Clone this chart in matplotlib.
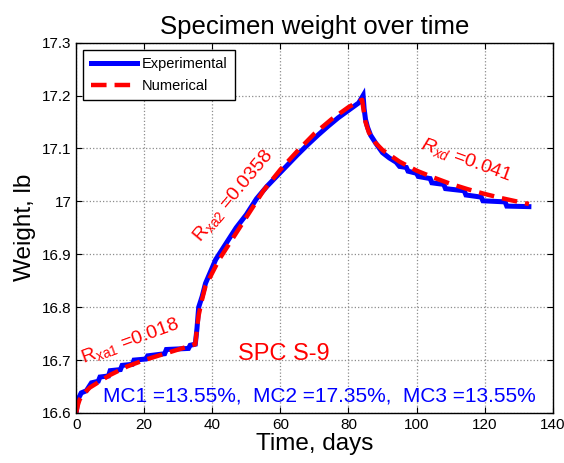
import matplotlib
matplotlib.use('Agg')
import matplotlib.pyplot as plt

plt.rcParams['font.family'] = ['Liberation Sans', 'DejaVu Sans']
plt.rcParams['mathtext.fontset'] = 'custom'
plt.rcParams['mathtext.rm'] = 'Liberation Sans'
plt.rcParams['mathtext.it'] = 'Liberation Sans:italic'
plt.rcParams['mathtext.default'] = 'regular'

# experimental measurements (scale readings, small steps)
exp_days = [0, 0.5, 1.5, 3, 4.5, 6.5, 7, 9.5, 10, 13, 13.5, 16.5, 17, 20.5, 21, 26, 26.5,
            33, 33.5, 35, 35.5, 36, 37, 38, 39, 40, 41, 42, 44, 47, 50, 53, 56, 59, 62, 65,
            68, 71, 74, 77, 80, 83, 84.3, 84.6, 85, 85.6, 86.5, 88, 90, 92, 94, 95, 97,
            97.5, 100, 100.5, 104, 104.5, 108, 108.5, 114, 114.5, 119, 119.5, 126, 126.5,
            133]
exp_weight = [16.600, 16.625, 16.638, 16.642, 16.657, 16.660, 16.668, 16.670, 16.680,
              16.682, 16.690, 16.692, 16.700, 16.702, 16.708, 16.712, 16.720, 16.722,
              16.728, 16.730, 16.760, 16.800, 16.820, 16.845, 16.860, 16.875, 16.890,
              16.900, 16.920, 16.950, 16.975, 17.005, 17.028, 17.048, 17.068, 17.088,
              17.107, 17.125, 17.142, 17.158, 17.172, 17.186, 17.200, 17.175, 17.155,
              17.140, 17.125, 17.110, 17.092, 17.082, 17.074, 17.066, 17.064, 17.057,
              17.053, 17.047, 17.043, 17.035, 17.032, 17.024, 17.020, 17.012, 17.008,
              17.001, 16.999, 16.991, 16.990]

# numerical model
num_days = [0, 0.5, 1, 2, 4, 7, 10, 15, 20, 25, 30, 35, 35.5, 36, 37, 38, 40, 42, 45, 50,
            55, 60, 65, 70, 75, 80, 84, 84.5, 85, 86, 88, 90, 95, 100, 105, 110, 115, 120,
            125, 130, 133]
num_weight = [16.600, 16.615, 16.625, 16.635, 16.648, 16.660, 16.672, 16.688, 16.700, 16.710,
              16.720, 16.730, 16.760, 16.785, 16.815, 16.840, 16.865, 16.890, 16.920, 16.970,
              17.020, 17.060, 17.095, 17.128, 17.155, 17.178, 17.192, 17.170, 17.150, 17.130,
              17.110, 17.097, 17.075, 17.058, 17.045, 17.033, 17.023, 17.014, 17.006, 16.999,
              16.995]

fig = plt.figure(figsize=(5.64, 4.63), dpi=100)
ax = fig.add_axes([0.135, 0.108, 0.845, 0.8])

ax.plot(exp_days, exp_weight, color='#0000ff', lw=3.6, label='Experimental',
        solid_joinstyle='miter')
ax.plot(num_days, num_weight, color='#ff0000', lw=3.2, ls=(0, (3.5, 1.8)),
        label='Numerical')

ax.set_xlim(0, 140)
ax.set_ylim(16.6, 17.3)
ax.set_xticks(range(0, 141, 20))
ax.set_yticks([16.6, 16.7, 16.8, 16.9, 17.0, 17.1, 17.2, 17.3])
ax.set_yticklabels(['16.6', '16.7', '16.8', '16.9', '17', '17.1', '17.2', '17.3'])
ax.tick_params(direction='in', top=True, right=True, labelsize=11, length=4, width=0.8)
ax.grid(True, color='0.55', ls=':', lw=0.9)
for s in ax.spines.values():
    s.set_linewidth(1.0)

ax.set_title('Specimen weight over time', fontsize=18.5, pad=6)
ax.set_xlabel('Time, days', fontsize=17.5, labelpad=1)
ax.set_ylabel('Weight, lb', fontsize=17.5, labelpad=4)

leg = ax.legend(loc='upper left', fontsize=10.5, fancybox=False, framealpha=1,
                edgecolor='black', borderaxespad=0.5, handlelength=3.2,
                handletextpad=0.3, borderpad=0.5, labelspacing=0.55)
leg.get_frame().set_linewidth(1.0)

ax.text(2, 16.693, 'R$_{xa1}$ =0.018', color='#ff0000', fontsize=14, rotation=20,
        rotation_mode='anchor')
ax.text(36.5, 16.922, 'R$_{xa2}$ =0.0358', color='#ff0000', fontsize=14, rotation=50,
        rotation_mode='anchor')
ax.text(101, 17.1, r'$\mathit{R_{xd}}$ =0.041', color='#ff0000', fontsize=14,
        rotation=-20, rotation_mode='anchor')
ax.text(47.5, 16.7, 'SPC S-9', color='#ff0000', fontsize=17)
ax.text(8, 16.622, 'MC1 =13.55%,  MC2 =17.35%,  MC3 =13.55%', color='#0000ff',
        fontsize=15)

fig.savefig('out.png', dpi=100)
